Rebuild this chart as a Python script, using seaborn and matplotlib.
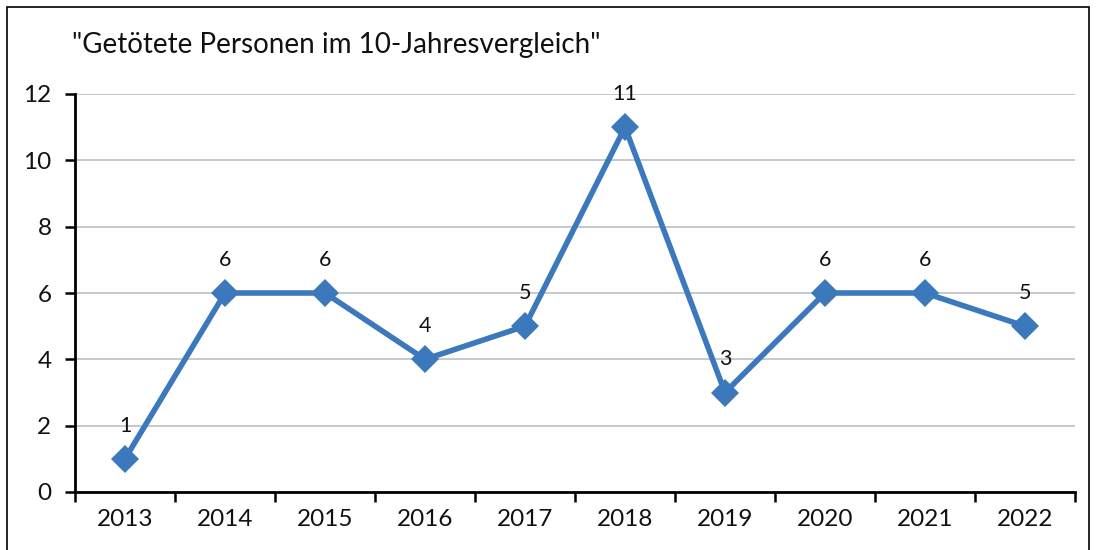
import matplotlib
matplotlib.use("Agg")
import matplotlib.pyplot as plt
import matplotlib.patches as patches
import seaborn as sns
import pandas as pd

# data
years = ["2013", "2014", "2015", "2016", "2017", "2018", "2019", "2020", "2021", "2022"]
killed = [1, 6, 6, 4, 5, 11, 3, 6, 6, 5]
title = '"Getötete Personen im 10-Jahresvergleich"'

df = pd.DataFrame({"year": years, "killed": killed})

sns.set_style("white")
plt.rcParams["font.family"] = ["Lato", "DejaVu Sans"]

W, H = 1096, 550
fig = plt.figure(figsize=(W / 100, H / 100), dpi=100)
ax = fig.add_axes([75 / W, 1 - 492 / H, 1000 / W, 398 / H])

line_color = "#3C78BC"
sns.lineplot(data=df, x="year", y="killed", ax=ax, color=line_color, linewidth=4,
             marker="D", markersize=14.5, markeredgewidth=0, sort=False)

# data labels above the points
for i, v in enumerate(killed):
    ax.annotate(str(v), (i, v), xytext=(0, 24), textcoords="offset points",
                ha="center", va="center", fontsize=15.5, color="#111111")

ax.set_xlim(-0.5, len(years) - 0.5)
ax.set_ylim(0, 12)
ax.set_yticks(range(0, 13, 2))
ax.set_xticks(range(len(years)))
ax.set_xticklabels(years)
ax.set_xticks([i - 0.5 for i in range(len(years) + 1)], minor=True)
ax.tick_params(axis="x", which="major", bottom=True, length=0, pad=12, labelsize=17.5,
               labelcolor="#111111")
ax.tick_params(axis="x", which="minor", bottom=True, length=7, width=1.8, direction="out",
               color="black")
ax.tick_params(axis="y", which="major", left=True, length=7, width=1.8, direction="out",
               color="black", labelsize=17.5, pad=10, labelcolor="#111111")
ax.set_xlabel("")
ax.set_ylabel("")

ax.grid(axis="y", color="#BFC5CC", linewidth=1.3)
ax.set_axisbelow(True)
for s in ["top", "right"]:
    ax.spines[s].set_visible(False)
for s in ["left", "bottom"]:
    ax.spines[s].set_color("black")
    ax.spines[s].set_linewidth(2)

fig.text(72 / W, 1 - 45 / H, title, ha="left", va="center", fontsize=20, color="#111111")

# outer chart frame
frame = patches.Rectangle((7 / W, -0.05), (1089 - 7) / W, 1 - 7 / H + 0.05,
                          transform=fig.transFigure, fill=False, edgecolor="black",
                          linewidth=1.2, clip_on=False)
fig.patches.append(frame)

fig.savefig("out.png", dpi=100)
